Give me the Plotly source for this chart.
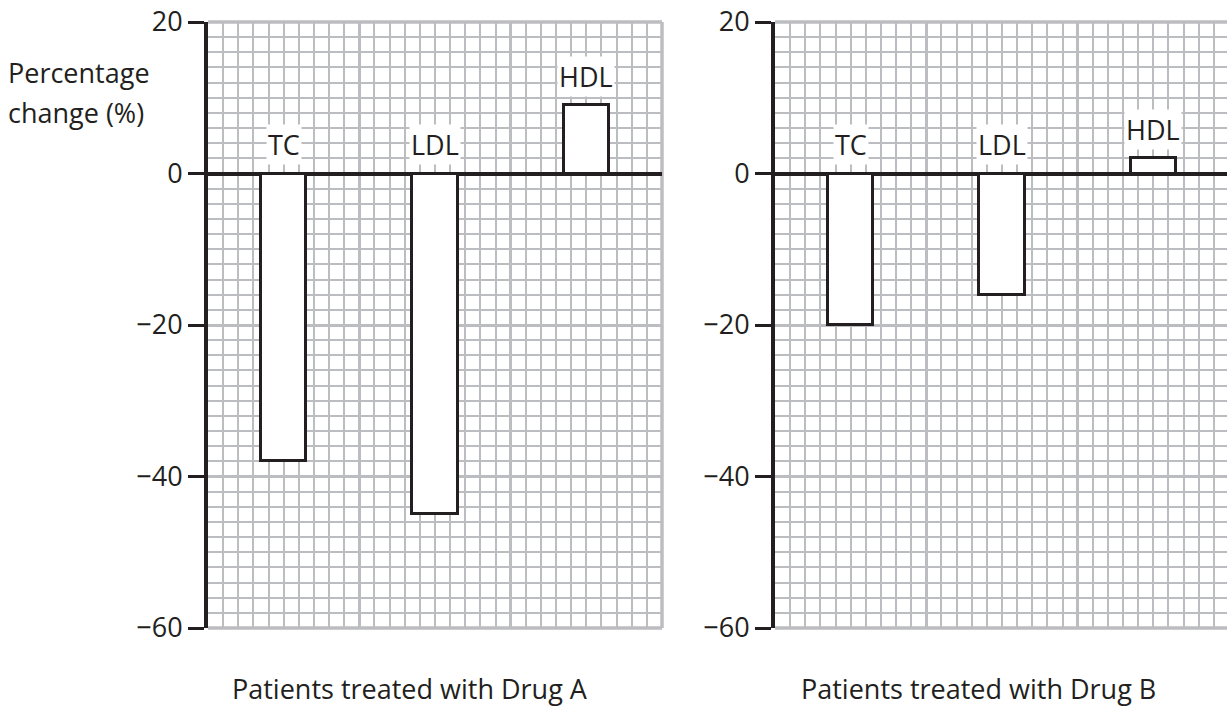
import plotly.graph_objects as go
from plotly.subplots import make_subplots

categories = ["TC", "LDL", "HDL"]
drug_a = [-38, -45, 9]
drug_b = [-20, -16, 2]
panel_titles = ["Patients treated with Drug A", "Patients treated with Drug B"]
y_ticks = [20, 0, -20, -40, -60]

FONT = "Open Sans"
GRID = "#bcbdc0"
INK = "#231f20"
FS = 27
W, H = 1227, 713
L, R, T, B = 208, 0, 22, H - 628
pw = W - L - R
ph = H - T - B


def px(xs):
    return (xs - L) / pw


def py(ys):
    return (H - B - ys) / ph


dom_a = [0, px(662)]
dom_b = [px(775), 1]

fig = make_subplots(rows=1, cols=2)

xpos = [i * 10 + 5 for i in range(len(categories))]

for col, vals in [(1, drug_a), (2, drug_b)]:
    fig.add_trace(go.Bar(
        x=xpos, y=vals, width=3,
        marker=dict(color="white", line=dict(color=INK, width=3)),
        showlegend=False, hoverinfo="y"
    ), row=1, col=col)
    sfx = "" if col == 1 else "2"
    for xp, v, c in zip(xpos, vals, categories):
        fig.add_annotation(
            x=xp, y=max(v, 0), xref=f"x{sfx}", yref=f"y{sfx}",
            text=c, showarrow=False, yshift=29, bgcolor="white",
            font=dict(family=FONT, size=FS, color=INK), borderpad=1
        )

ppu = (662 - 208) / 30
xr_b = (W - 775) / ppu

for col, dom, xr in [(1, dom_a, 30), (2, dom_b, xr_b)]:
    fig.update_xaxes(
        domain=dom, range=[0, xr], showticklabels=False, ticks="",
        showgrid=True, dtick=10, tick0=0, gridcolor=GRID, gridwidth=3,
        minor=dict(dtick=1, tick0=0, showgrid=True, gridcolor=GRID, gridwidth=2),
        zeroline=False, showline=False, automargin=False, row=1, col=col
    )
    fig.update_yaxes(
        range=[-60, 20], tickvals=y_ticks, ticks="outside", ticklen=16,
        tickwidth=2.5, tickcolor=INK, ticklabeloverflow="allow",
        tickfont=dict(family=FONT, size=FS, color=INK),
        showgrid=True, gridcolor=GRID, gridwidth=3,
        minor=dict(dtick=2, tick0=0, showgrid=True, gridcolor=GRID, gridwidth=2),
        zeroline=True, zerolinecolor=INK, zerolinewidth=3.5,
        showline=True, linecolor=INK, linewidth=4, automargin=False, row=1, col=col
    )

# panel borders (grey)
for xd, yd in [("x domain", "y domain"), ("x2 domain", "y2 domain")]:
    fig.add_shape(type="line", xref=xd, yref=yd, x0=0, x1=1, y0=1, y1=1,
                  line=dict(color=GRID, width=3.5), layer="below")
    fig.add_shape(type="line", xref=xd, yref=yd, x0=0, x1=1, y0=0, y1=0,
                  line=dict(color=GRID, width=3.5), layer="below")
fig.add_shape(type="line", xref="x domain", yref="y domain", x0=1, x1=1, y0=0, y1=1,
              line=dict(color=GRID, width=3.5), layer="below")

# y-axis title
for txt, yc in [("Percentage", 73), ("change (%)", 112)]:
    fig.add_annotation(x=px(6), y=py(yc), xref="paper", yref="paper",
                       text=txt, showarrow=False, xanchor="left", yanchor="middle",
                       font=dict(family=FONT, size=FS, color=INK))

# bottom titles
for cx, t in [(410, panel_titles[0]), (978, panel_titles[1])]:
    fig.add_annotation(x=px(cx), y=py(688), xref="paper", yref="paper",
                       text=t, showarrow=False, xanchor="center", yanchor="middle",
                       font=dict(family=FONT, size=FS, color=INK))

fig.update_layout(
    width=W, height=H, margin=dict(l=L, r=R, t=T, b=B, autoexpand=False),
    plot_bgcolor="white", paper_bgcolor="white", bargap=0,
)

fig.write_html("out.html", config={"displayModeBar": False},
               post_script="document.body.style.margin='0';document.body.style.overflow='hidden';")
